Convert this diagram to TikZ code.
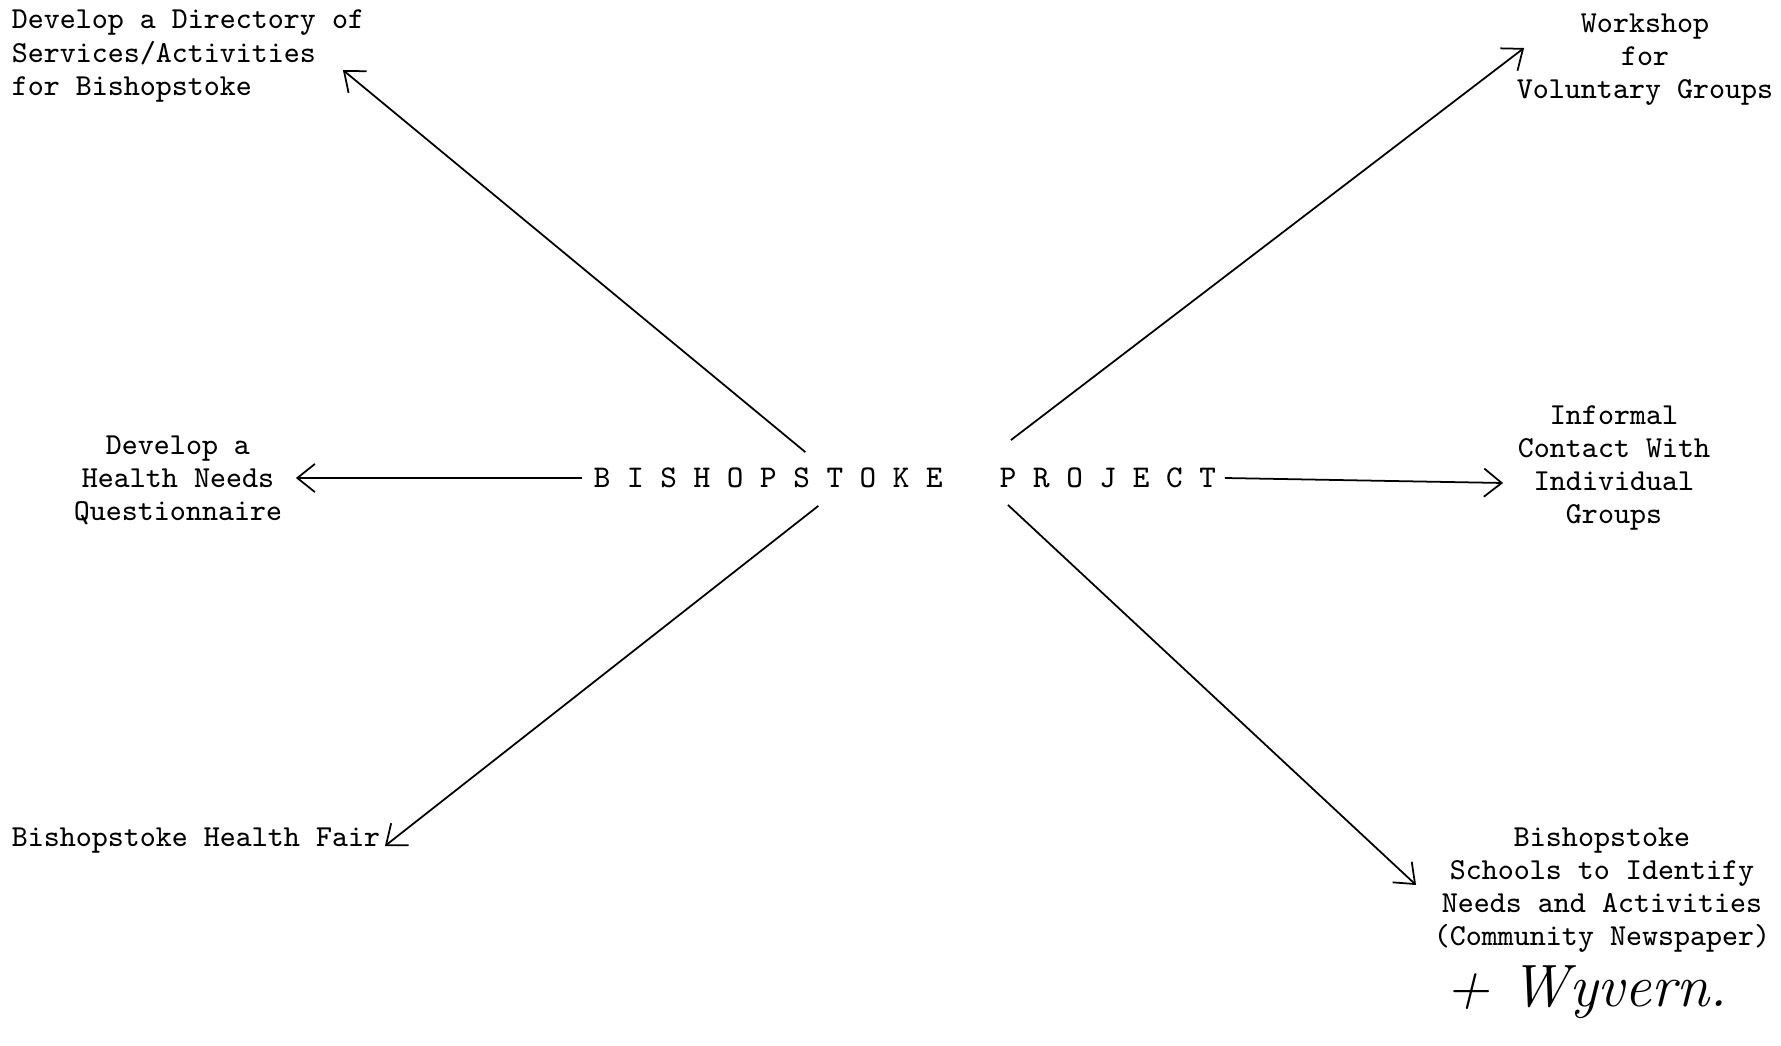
\documentclass[tikz,border=0pt]{standalone}
\usepackage{fontspec}
\usetikzlibrary{arrows.meta,calc}
\begin{document}
\begin{tikzpicture}[x=0.01cm, y=-0.01cm, line width=0.5pt,
  every node/.style={font=\fontsize{8.67}{9.39}\selectfont\ttfamily, inner sep=0pt},
  spaced/.style={font=\fontsize{9}{10}\selectfont\ttfamily, anchor=west},
  aim/.style={-{Straight Barb[length=5pt,width=8pt]}}]
\useasboundingbox (0,0) rectangle (1781,1046);
% centre title
\node[spaced] (bish) at (593,478) {B I S H O P S T O K E};
\node[spaced] (proj) at (999,478) {P R O J E C T};
% the six aims
\node[anchor=west, align=left] (dir) at (11,56) {Develop a Directory of\\Services/Activities\\for Bishopstoke};
\node[align=center] (needs) at (178,480) {Develop a\\Health Needs\\Questionnaire};
\node[anchor=west] (fair) at (11,841) {Bishopstoke Health Fair};
\node[align=center] (work) at (1645,60) {Workshop\\for\\Voluntary Groups};
\node[align=center] (info) at (1614,468) {Informal\\Contact With\\Individual\\Groups};
\node[align=center] (school) at (1602,890) {Bishopstoke\\Schools to Identify\\Needs and Activities\\(Community Newspaper)};
\node[font=\fontsize{17}{19}\selectfont\rmfamily\itshape] (wyv) at (1586,992) {+ Wyvern.};
% arrows
\draw[aim] ($(bish.north)+(37,-15)$) -- ($(dir.east)+(-22,14)$);
\draw[aim] ($(bish.west)+(-11,0)$) -- ($(needs.east)+(13,-2)$);
\draw[aim] ($(bish.south)+(50,17)$) -- ($(fair.east)+(4,5)$);
\draw[aim] ($(proj.north)+(-97,-27)$) -- ($(work.west)+(8,-12)$);
\draw[aim] ($(proj.east)+(8,0)$) -- ($(info.west)+(-14,15)$);
\draw[aim] ($(proj.south)+(-100,16)$) -- ($(school.west)+(-17,-5)$);
\end{tikzpicture}
\end{document}
